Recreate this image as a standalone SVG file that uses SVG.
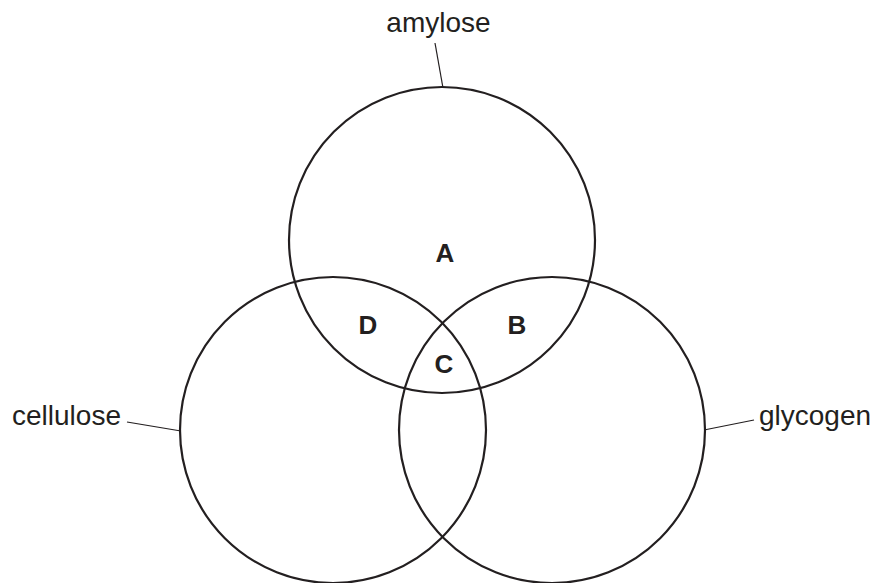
<svg xmlns="http://www.w3.org/2000/svg" width="883" height="583" viewBox="0 0 883 583">
<style>
.c{fill:none;stroke:#231f20;stroke-width:2.2}
.l{stroke:#231f20;stroke-width:1.2;fill:none}
.t{font-family:"Liberation Sans",Arial,sans-serif;font-size:28px;fill:#231f20}
.r{font-family:"Liberation Sans",Arial,sans-serif;font-size:26px;font-weight:bold;fill:#231f20;text-anchor:middle}
</style>
<rect width="883" height="583" fill="#fff"/>
<g id="amylose"><circle class="c" cx="442" cy="240" r="153"/><text class="t" x="438.5" y="32" text-anchor="middle">amylose</text></g>
<g id="cellulose"><circle class="c" cx="333" cy="430" r="153"/><text class="t" x="12" y="425">cellulose</text></g>
<g id="glycogen"><circle class="c" cx="552" cy="430" r="153"/><text class="t" x="759" y="425">glycogen</text></g>
<g id="regions">
<text class="r" x="445" y="262">A</text>
<text class="r" x="517" y="334">B</text>
<text class="r" x="444" y="373">C</text>
<text class="r" x="368" y="334">D</text>
</g>
<g id="connectors">
<line class="l" x1="435" y1="43" x2="443" y2="88"/>
<line class="l" x1="127" y1="422" x2="181" y2="431"/>
<line class="l" x1="704" y1="430" x2="754" y2="420"/>
</g>
</svg>
